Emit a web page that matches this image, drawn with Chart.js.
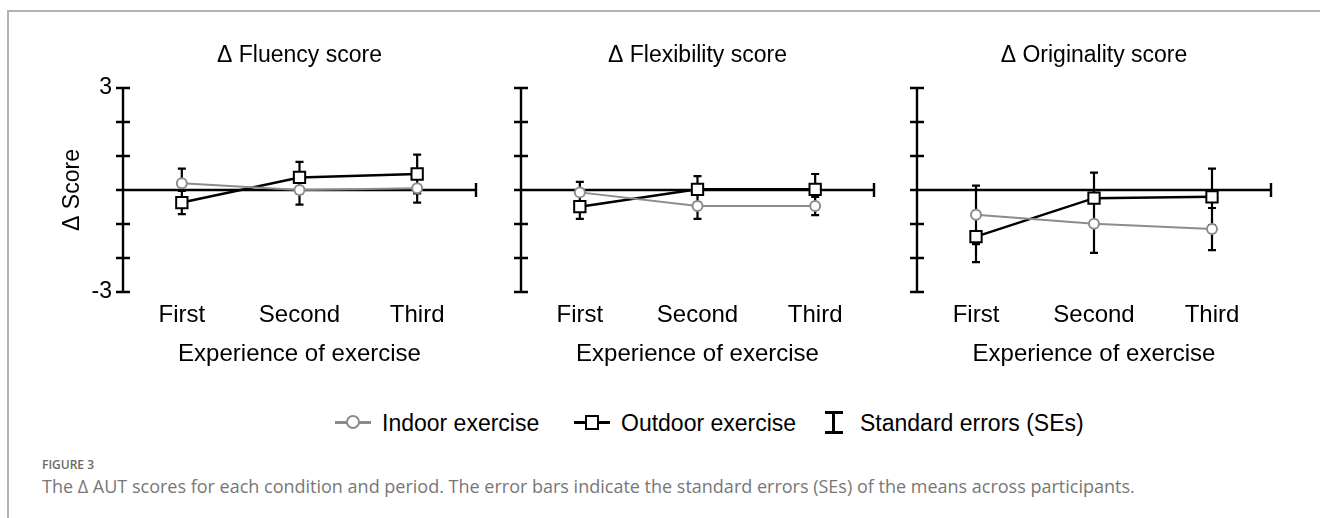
<!DOCTYPE html>
<html>
<head>
<meta charset="utf-8">
<script src="https://cdn.jsdelivr.net/npm/chart.js@4.4.0/dist/chart.umd.min.js"></script>
<style>
  body { margin: 0; width: 1320px; height: 518px; overflow: hidden; background: #fff; position: relative; font-family: "Liberation Sans", Arial, sans-serif; }
  #frame { position: absolute; left: 7px; top: 10px; width: 1330px; height: 520px; border-top: 2px solid #b4b4b4; border-left: 2px solid #b4b4b4; }
  .panel { position: absolute; top: 30px; height: 347px; }
  .legend { position: absolute; top: 409px; height: 28px; font-size: 23px; line-height: 28px; color: #000; white-space: nowrap; }
  .sym { position: absolute; top: 0; height: 28px; }
  .sym .ln { position: absolute; top: 12px; height: 3px; }
  .caption-head { position: absolute; left: 42px; top: 456px; font-family: "Open Sans", sans-serif; font-weight: 600; font-size: 12px; color: #6a6a6a; }
  .caption { position: absolute; left: 42px; top: 474px; font-family: "Open Sans", sans-serif; font-size: 18px; color: #777; white-space: nowrap; }
</style>
</head>
<body>
<div id="frame"></div>
<div class="panel" style="left:53px;width:433px"><canvas id="c1"></canvas></div>
<div class="panel" style="left:451px;width:433px"><canvas id="c2"></canvas></div>
<div class="panel" style="left:847px;width:434px"><canvas id="c3"></canvas></div>

<div class="legend" style="left:335px;width:36px">
  <div class="sym" style="left:0;width:36px">
    <div class="ln" style="left:0;width:36px;background:#8c8c8c"></div>
    <div style="position:absolute;left:11px;top:6px;width:10px;height:10px;border:2.5px solid #8c8c8c;border-radius:50%;background:#fff"></div>
  </div>
</div>
<div class="legend" style="left:382px">Indoor exercise</div>
<div class="legend" style="left:574px;width:36px">
  <div class="sym" style="left:0;width:36px">
    <div class="ln" style="left:0;width:36px;background:#000"></div>
    <div style="position:absolute;left:11px;top:6px;width:10px;height:11px;border:2.5px solid #000;background:#fff"></div>
  </div>
</div>
<div class="legend" style="left:621px">Outdoor exercise</div>
<div class="legend" style="left:825px;width:18px">
  <div class="sym" style="left:0;width:18px">
    <div style="position:absolute;left:0;top:2px;width:18px;height:3px;background:#000"></div>
    <div style="position:absolute;left:7px;top:2px;width:3px;height:22px;background:#000"></div>
    <div style="position:absolute;left:0;top:22px;width:18px;height:3px;background:#000"></div>
  </div>
</div>
<div class="legend" style="left:860px">Standard errors (SEs)</div>

<div class="caption-head">FIGURE 3</div>
<div class="caption">The Δ AUT scores for each condition and period. The error bars indicate the standard errors (SEs) of the means across participants.</div>

<script>
// --- Data ---
const categories = ['First', 'Second', 'Third'];
const yTicks = [-3, -2, -1, 0, 1, 2, 3];
const panelTitles = ['Δ Fluency score', 'Δ Flexibility score', 'Δ Originality score'];

const indoorFluency = [0.20, 0.00, 0.05];
const indoorFluencySE = [0.43, 0.43, 0.42];
const outdoorFluency = [-0.37, 0.37, 0.47];
const outdoorFluencySE = [0.34, 0.46, 0.57];

const indoorFlexibility = [-0.07, -0.47, -0.47];
const indoorFlexibilitySE = [0.31, 0.38, 0.27];
const outdoorFlexibility = [-0.49, 0.02, 0.02];
const outdoorFlexibilitySE = [0.36, 0.39, 0.45];

const indoorOriginality = [-0.73, -0.99, -1.15];
const indoorOriginalitySE = [0.86, 0.86, 0.62];
const outdoorOriginality = [-1.37, -0.24, -0.20];
const outdoorOriginalitySE = [0.75, 0.75, 0.83];

const FONT = '"Liberation Sans", Arial, sans-serif';

// axes (crossing ticks, zero line) and error bars, drawn under the series
const axesAndErrors = {
    id: 'axesAndErrors',
    beforeDatasetsDraw(chart) {
        const { ctx, chartArea, scales: { x, y } } = chart;
        ctx.save();
        ctx.strokeStyle = '#000';
        ctx.lineWidth = 2.4;
        ctx.beginPath();
        ctx.moveTo(chartArea.left, y.getPixelForValue(3) - 1);
        ctx.lineTo(chartArea.left, y.getPixelForValue(-3) + 1);
        yTicks.forEach(v => {
            const py = y.getPixelForValue(v);
            ctx.moveTo(chartArea.left - 7, py);
            ctx.lineTo(chartArea.left + 7, py);
        });
        const y0 = y.getPixelForValue(0);
        ctx.moveTo(chartArea.left, y0);
        ctx.lineTo(chartArea.right, y0);
        ctx.moveTo(chartArea.right, y0 - 7);
        ctx.lineTo(chartArea.right, y0 + 7);
        ctx.stroke();

        ctx.lineWidth = 2.2;
        ctx.beginPath();
        chart.data.datasets.forEach(ds => {
            ds.se.forEach((s, j) => {
                const px = x.getPixelForValue(j);
                const hi = y.getPixelForValue(ds.data[j] + s);
                const lo = y.getPixelForValue(ds.data[j] - s);
                ctx.moveTo(px, hi); ctx.lineTo(px, lo);
                ctx.moveTo(px - 4, hi); ctx.lineTo(px + 4, hi);
                ctx.moveTo(px - 4, lo); ctx.lineTo(px + 4, lo);
            });
        });
        ctx.stroke();
        ctx.restore();
    }
};

function makePanel(id, title, indoor, indoorSE, outdoor, outdoorSE, first) {
    const ctx = document.getElementById(id).getContext('2d');
    return new Chart(ctx, {
        type: 'line',
        data: {
            labels: categories,
            datasets: [{
                label: 'Indoor exercise',
                data: indoor,
                se: indoorSE,
                borderColor: '#8c8c8c',
                borderWidth: 2,
                pointStyle: 'circle',
                pointRadius: 5,
                pointBorderWidth: 2,
                pointBorderColor: '#8c8c8c',
                pointBackgroundColor: '#fff',
                tension: 0
            }, {
                label: 'Outdoor exercise',
                data: outdoor,
                se: outdoorSE,
                borderColor: '#000',
                borderWidth: 2.5,
                pointStyle: 'rect',
                pointRadius: 8,
                pointBorderWidth: 2,
                pointBorderColor: '#000',
                pointBackgroundColor: '#fff',
                tension: 0
            }]
        },
        options: {
            responsive: true,
            maintainAspectRatio: false,
            animation: false,
            layout: { padding: { left: 0, right: 8, top: 0, bottom: 0 } },
            plugins: {
                legend: { display: false },
                tooltip: { enabled: false },
                title: {
                    display: true, text: title, fullSize: false, color: '#000',
                    font: { family: FONT, size: 23, weight: 'normal' },
                    padding: { top: 12.2, bottom: 18.2 }
                }
            },
            scales: {
                x: {
                    type: 'category',
                    offset: true,
                    grid: { display: false, drawTicks: false },
                    border: { display: false },
                    ticks: { color: '#000', font: { family: FONT, size: 24 }, padding: 9, maxRotation: 0 },
                    title: {
                        display: true, text: 'Experience of exercise', color: '#000',
                        font: { family: FONT, size: 24 }, padding: { top: 0, bottom: 8.6 }
                    },
                    afterFit(s) { s.height = 85; }
                },
                y: {
                    min: -3, max: 3,
                    grid: { display: false, drawTicks: false },
                    border: { display: false },
                    ticks: {
                        stepSize: 1, color: '#000', padding: 11,
                        font: { family: FONT, size: 23 },
                        callback: v => (first && (v === 3 || v === -3)) ? String(v) : ''
                    },
                    title: {
                        display: first, text: 'Δ Score', color: '#000',
                        font: { family: FONT, size: 23 }, padding: { top: 6.2, bottom: 0 }
                    },
                    afterFit(s) { s.width = 70; }
                }
            }
        },
        plugins: [axesAndErrors]
    });
}

makePanel('c1', panelTitles[0], indoorFluency, indoorFluencySE, outdoorFluency, outdoorFluencySE, true);
makePanel('c2', panelTitles[1], indoorFlexibility, indoorFlexibilitySE, outdoorFlexibility, outdoorFlexibilitySE, false);
makePanel('c3', panelTitles[2], indoorOriginality, indoorOriginalitySE, outdoorOriginality, outdoorOriginalitySE, false);
</script>
</body>
</html>
